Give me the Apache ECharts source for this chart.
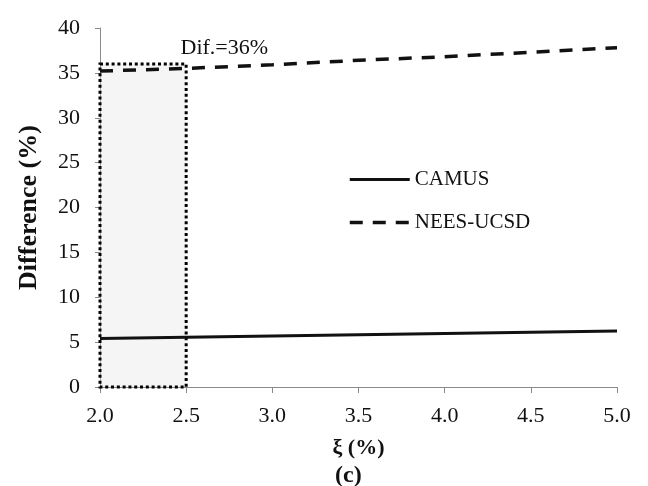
<!DOCTYPE html>
<html>
<head>
<meta charset="utf-8">
<script src="https://cdn.jsdelivr.net/npm/echarts@6/dist/echarts.min.js"></script>
<style>
  html, body { margin: 0; padding: 0; background: #fff; }
  #chart { width: 648px; height: 486px; }
</style>
</head>
<body>
<div id="chart"></div>
<script>
// Damping ratio ξ (%) and the difference (%) for each test set
const xi = [2.0, 2.5, 3.0, 3.5, 4.0, 4.5, 5.0];
const camus = [5.4, 5.54, 5.68, 5.83, 5.97, 6.11, 6.25];
const neesUcsd = [35.2, 35.5, 35.9, 36.4, 36.8, 37.3, 37.8];
const yTicks = [0, 40, 5];          // min, max, interval
const xTicks = [2.0, 5.0, 0.5];     // min, max, interval
// Highlighted range and its note
const boxRange = { x: [2.0, 2.5], y: [0, 36] };
const boxNote = 'Dif.=36%';

const serif = '"Liberation Serif", "Times New Roman", serif';
const axisGrey = '#8a8a8a';

const pairs = (xs, ys) => xs.map((x, i) => [x, ys[i]]);

const chart = echarts.init(document.getElementById('chart'), null, { renderer: 'canvas' });
chart.setOption({
  backgroundColor: '#fff',
  animation: false,
  grid: { left: 100, right: 31, top: 28, bottom: 99 },
  legend: {
    orient: 'vertical',
    left: 348,
    top: 169,
    padding: 0,
    itemWidth: 60,
    itemHeight: 14,
    itemGap: 22,
    itemStyle: { opacity: 0 },
    textStyle: { fontFamily: serif, fontSize: 21, color: '#111' },
    data: [
      { name: 'CAMUS', lineStyle: { width: 3 } },
      { name: 'NEES-UCSD', lineStyle: { width: 3.5 } }
    ]
  },
  xAxis: {
    type: 'value',
    min: xTicks[0], max: xTicks[1], interval: xTicks[2],
    name: 'ξ (%)',
    nameLocation: 'middle',
    nameGap: 50,
    nameTextStyle: { fontFamily: serif, fontSize: 22, fontWeight: 'bold', color: '#111' },
    axisLine: { lineStyle: { color: axisGrey, width: 1 } },
    axisTick: { length: 6, lineStyle: { color: axisGrey } },
    axisLabel: {
      fontFamily: serif, fontSize: 22, color: '#111', margin: 18,
      formatter: v => v.toFixed(1)
    },
    splitLine: { show: false }
  },
  yAxis: {
    type: 'value',
    min: yTicks[0], max: yTicks[1], interval: yTicks[2],
    name: 'Difference (%)',
    nameLocation: 'middle',
    nameGap: 58,
    nameRotate: 90,
    nameTextStyle: { fontFamily: serif, fontSize: 26, fontWeight: 'bold', color: '#111' },
    axisLine: { show: true, lineStyle: { color: axisGrey, width: 1 } },
    axisTick: { show: true, length: 5, lineStyle: { color: axisGrey } },
    axisLabel: { fontFamily: serif, fontSize: 22, color: '#111', margin: 20 },
    splitLine: { show: false }
  },
  series: [
    {
      name: 'CAMUS',
      type: 'line',
      data: pairs(xi, camus),
      symbol: 'none',
      lineStyle: { color: '#111', width: 3, type: 'solid' },
      itemStyle: { color: '#111' },
      z: 3,
      markArea: {
        silent: true,
        itemStyle: {
          color: 'rgba(225,225,225,0.35)',
          borderColor: '#000',
          borderWidth: 3,
          borderType: [3, 2.8]
        },
        label: {
          show: true,
          formatter: boxNote,
          position: [82, -25],
          fontFamily: serif,
          fontSize: 22,
          color: '#111'
        },
        data: [[
          { coord: [boxRange.x[0], boxRange.y[1]] },
          { coord: [boxRange.x[1], boxRange.y[0]] }
        ]]
      }
    },
    {
      name: 'NEES-UCSD',
      type: 'line',
      data: pairs(xi, neesUcsd),
      symbol: 'none',
      lineStyle: { color: '#111', width: 3.5, type: [13, 10] },
      itemStyle: { color: '#111' },
      z: 3
    }
  ],
  graphic: [{
    type: 'text',
    left: 335,
    top: 464,
    style: { text: '(c)', font: 'bold 24px ' + serif, fill: '#111' }
  }]
});
</script>
</body>
</html>
